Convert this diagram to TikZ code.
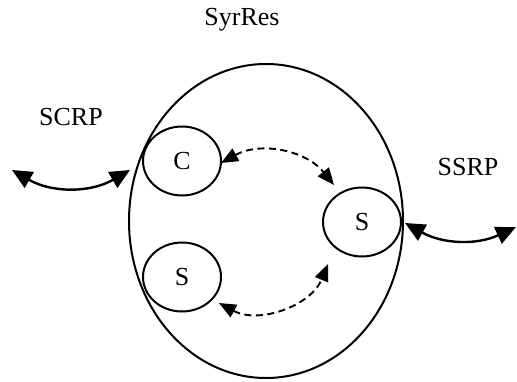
\documentclass[tikz,border=0pt]{standalone}
\usepackage{fontspec}
\setmainfont{Liberation Serif}
\usetikzlibrary{shapes.geometric,arrows.meta}
\tikzset{
  proc/.style={draw, line width=2pt, ellipse, inner sep=0pt,
    minimum width=78pt, minimum height=69pt},
  link/.style={line width=2.4pt, {Triangle[length=20pt,width=18pt]}-{Triangle[length=20pt,width=18pt]}},
  inlink/.style={line width=1.9pt, dash pattern=on 7pt off 4.5pt,
    {Triangle[length=17pt,width=14pt]}-{Triangle[length=17pt,width=14pt]}}
}
\begin{document}
\begin{tikzpicture}[x=1pt,y=1pt,font=\fontsize{26}{30}\selectfont]
            \useasboundingbox (0,0) rectangle (517,381);
            % Resource
            \node [proc, minimum width=274pt, minimum height=314pt] (syrres) at (266,160) {};
            \node (title) at (242,361) {SyrRes};
            % Processes
            \node [proc] (c) at (182,220) {C};
            \node [proc] (s1) at (182,104) {S};
            \node [proc] (s2) at (362,159) {S};
            % Protocols
            \node (scrp) at (71,264) {SCRP};
            \node (ssrp) at (468,214) {SSRP};
            \coordinate (lout) at (12,211);
            \coordinate (lin) at (130,211);
            \coordinate (rin) at (405,158);
            \coordinate (rout) at (516,154);
            \draw [link] (lout) to[bend right=30] (lin);
            \draw [link] (rin) to[bend right=27] (rout);
            % Internal links
            \coordinate (cs) at (221,218);
            \coordinate (sc) at (334,196);
            \coordinate (ss) at (219,78);
            \coordinate (sr) at (328,117);
            \draw [inlink] (cs) to[bend left=40] (sc);
            \draw [inlink] (ss) to[bend right=48] (sr);
\end{tikzpicture}
\end{document}
